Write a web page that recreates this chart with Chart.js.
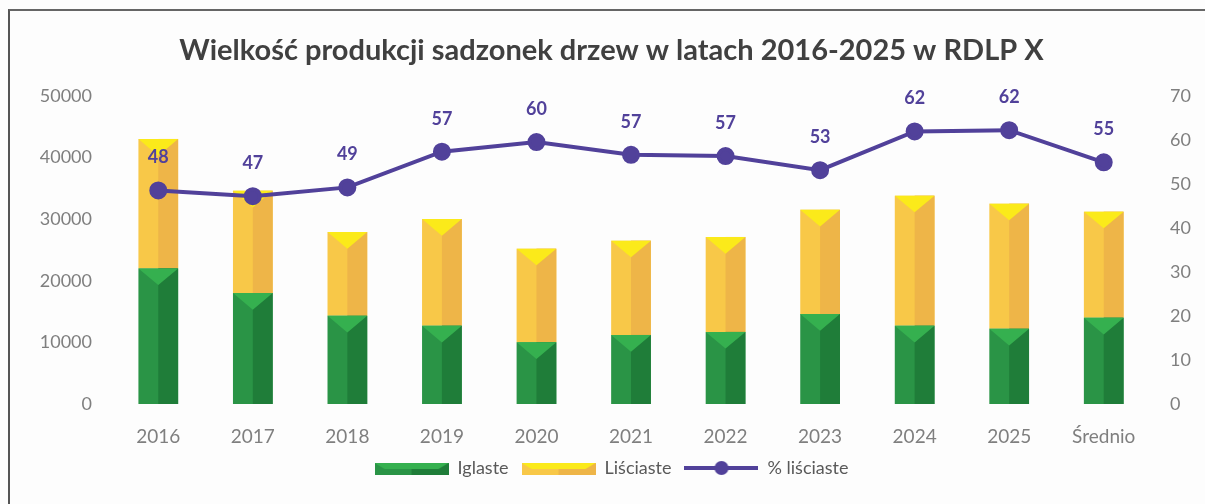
<!DOCTYPE html>
<html>
<head>
<meta charset="utf-8">
<script src="https://cdn.jsdelivr.net/npm/chart.js@4"></script>
<style>
  html, body { margin: 0; padding: 0; background: #fdfdfd; }
  #wrap { position: relative; width: 1205px; height: 504px; }
  #frame { position: absolute; left: 8px; top: 9px; width: 1300px; height: 600px;
           border-left: 2px solid #555; border-top: 2px solid #666; pointer-events: none; }
</style>
</head>
<body>
<div id="wrap">
  <canvas id="chart" width="1205" height="504"></canvas>
  <div id="frame"></div>
</div>
<script>
const lata = ["2016", "2017", "2018", "2019", "2020", "2021", "2022", "2023", "2024", "2025", "Średnio"];
const iglaste = [22000, 18000, 14300, 12700, 10000, 11200, 11700, 14600, 12700, 12200, 14000];
const lisciaste = [21000, 16600, 13600, 17300, 15200, 15300, 15400, 16900, 21100, 20300, 17200];
const procentLisciaste = [48.5, 47.2, 49.2, 57.3, 59.5, 56.6, 56.3, 53.1, 61.9, 62.2, 54.9];
const etykietyProcent = ["48", "47", "49", "57", "60", "57", "57", "53", "62", "62", "55"];

const FONT = "Lato, 'Open Sans', sans-serif";
const GREEN = { base: "#2a9446", dark: "#1f7d39", top: "#35b04f" };
const YELLOW = { base: "#f8c848", dark: "#eeb548", top: "#fbea1a" };
const PURPLE = "#51419a";

// bevel look like in the Excel original
const bevelPlugin = {
  id: "bevel",
  afterDatasetDraw(chart, args) {
    const ds = chart.data.datasets[args.index];
    if (ds.type !== "bar") return;
    const pal = ds.palette;
    const ctx = chart.ctx;
    ctx.save();
    args.meta.data.forEach((bar) => {
      const p = bar.getProps(["x", "y", "base", "width"], true);
      const l = p.x - p.width / 2, r = p.x + p.width / 2;
      const top = Math.min(p.y, p.base), bot = Math.max(p.y, p.base);
      ctx.fillStyle = pal.dark;
      ctx.fillRect(p.x, top, r - p.x, bot - top);
      ctx.fillStyle = pal.top;
      ctx.beginPath();
      ctx.moveTo(l, top);
      ctx.lineTo(r, top);
      ctx.lineTo(p.x, top + p.width * 0.42);
      ctx.closePath();
      ctx.fill();
    });
    ctx.restore();
  }
};

const labelPlugin = {
  id: "lineLabels",
  afterDatasetsDraw(chart) {
    const idx = chart.data.datasets.findIndex((d) => d.type === "line");
    const meta = chart.getDatasetMeta(idx);
    const ctx = chart.ctx;
    ctx.save();
    ctx.font = "bold 18px " + FONT;
    ctx.fillStyle = PURPLE;
    ctx.textAlign = "center";
    ctx.textBaseline = "middle";
    meta.data.forEach((pt, i) => {
      ctx.fillText(etykietyProcent[i], pt.x, pt.y - 33);
    });
    ctx.restore();
  }
};

function legendIcon(kind) {
  const c = document.createElement("canvas");
  c.width = 74; c.height = 14;
  const g = c.getContext("2d");
  if (kind === "line") {
    g.strokeStyle = PURPLE; g.lineWidth = 4;
    g.beginPath(); g.moveTo(0, 7); g.lineTo(74, 7); g.stroke();
    g.fillStyle = PURPLE;
    g.beginPath(); g.arc(37, 7, 7, 0, Math.PI * 2); g.fill();
  } else {
    const pal = kind === "g" ? GREEN : YELLOW;
    g.fillStyle = pal.base; g.fillRect(0, 2, 74, 12);
    g.fillStyle = pal.dark; g.fillRect(37, 2, 37, 12);
    g.fillStyle = pal.top;
    g.beginPath(); g.moveTo(0, 2); g.lineTo(74, 2); g.lineTo(64, 8); g.lineTo(10, 8); g.closePath(); g.fill();
  }
  return c;
}
const icons = [legendIcon("g"), legendIcon("y"), legendIcon("line")];

new Chart(document.getElementById("chart"), {
  data: {
    labels: lata,
    datasets: [
      {
        type: "line",
        label: "% liściaste",
        data: procentLisciaste,
        yAxisID: "y1",
        borderColor: PURPLE,
        backgroundColor: PURPLE,
        borderWidth: 4,
        pointRadius: 7,
        pointHoverRadius: 7,
        tension: 0,
        order: 0
      },
      {
        type: "bar",
        label: "Iglaste",
        data: iglaste,
        backgroundColor: GREEN.base,
        palette: GREEN,
        stack: "s",
        yAxisID: "y",
        barPercentage: 1,
        categoryPercentage: 0.42,
        order: 1
      },
      {
        type: "bar",
        label: "Liściaste",
        data: lisciaste,
        backgroundColor: YELLOW.base,
        palette: YELLOW,
        stack: "s",
        yAxisID: "y",
        barPercentage: 1,
        categoryPercentage: 0.42,
        order: 1
      }
    ]
  },
  options: {
    responsive: false,
    animation: false,
    layout: { padding: { left: 18, right: 0, top: 0, bottom: 17 } },
    plugins: {
      title: {
        display: true,
        text: "Wielkość produkcji sadzonek drzew w latach 2016-2025 w RDLP X",
        color: "#404040",
        font: { family: FONT, size: 29, weight: "bold" },
        padding: { top: 33, bottom: 28 }
      },
      legend: {
        position: "bottom",
        labels: {
          color: "#595959",
          font: { family: FONT, size: 18, lineHeight: 1 },
          usePointStyle: true,
          pointStyleWidth: 74,
          boxHeight: 14,
          padding: 13,
          generateLabels(chart) {
            const order = [1, 2, 0];
            return order.map((di, k) => ({
              text: chart.data.datasets[di].label,
              pointStyle: icons[k],
              datasetIndex: di,
              fontColor: "#595959",
              lineWidth: 0,
              hidden: false
            }));
          }
        }
      },
      tooltip: { enabled: false }
    },
    scales: {
      x: {
        stacked: true,
        grid: { display: false, drawTicks: false },
        border: { display: false },
        ticks: { color: "#7f7f7f", font: { family: FONT, size: 19, lineHeight: 1 }, padding: 23, maxRotation: 0 },
        afterFit(s) { s.height = 42; }
      },
      y: {
        stacked: true,
        min: 0,
        max: 50000,
        position: "left",
        grid: { display: false, drawTicks: false },
        border: { display: false },
        ticks: { stepSize: 10000, color: "#7f7f7f", font: { family: FONT, size: 18 }, padding: 19,
                 callback: (v) => String(v) },
        afterFit(s) { s.width = 93; }
      },
      y1: {
        min: 0,
        max: 70,
        position: "right",
        grid: { display: false, drawTicks: false },
        border: { display: false },
        ticks: { stepSize: 10, color: "#7f7f7f", font: { family: FONT, size: 18 }, padding: 19 },
        afterFit(s) { s.width = 54; }
      }
    }
  },
  plugins: [bevelPlugin, labelPlugin]
});
</script>
</body>
</html>
